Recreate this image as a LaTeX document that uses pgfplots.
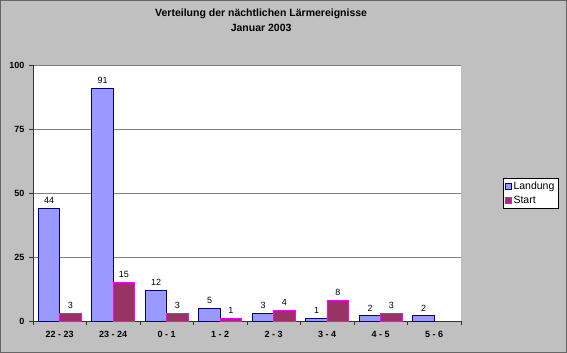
\documentclass[border=0pt]{standalone}
\usepackage{pgfplots}
\pgfplotsset{compat=1.18}
\usepackage{fontspec}
\setmainfont{Liberation Sans}
\definecolor{bg}{HTML}{C0C0C0}
\definecolor{land}{HTML}{9999FF}
\definecolor{landb}{HTML}{000080}
\definecolor{start}{HTML}{993366}
\definecolor{startb}{HTML}{FF00FF}
\definecolor{gridc}{HTML}{808080}
\pgfplotsset{mylegend/.style={legend image code/.code={\draw[##1, line width=0.9pt] (0pt,-3pt) rectangle (6pt,3pt);}}}
\begin{document}
\begin{tikzpicture}
\fill[bg] (0pt,0pt) rectangle (567pt,353pt);
\draw[black!60, line width=0.8pt] (0.4pt,0.4pt) rectangle (566.6pt,352.6pt);
\begin{axis}[
  at={(33pt,32pt)}, anchor=south west,
  scale only axis, width=428pt, height=256pt,
  xmin=-0.5, xmax=7.5, ymin=0, ymax=100,
  ytick={0,25,50,75,100},
  ymajorgrids, grid style={gridc, line width=0.7pt},
  xtick={0,...,7},
  xticklabels={22 - 23, 23 - 24, 0 - 1, 1 - 2, 2 - 3, 3 - 4, 4 - 5, 5 - 6},
  major x tick style={draw=none},
  minor xtick={-0.5,0.5,...,7.5},
  tick align=outside, major tick length=4pt, minor tick length=4pt,
  tick style={black!80, line width=0.7pt},
  axis lines*=left,
  axis line style={black!80, line width=0.8pt},
  ticklabel style={font=\bfseries\fontsize{9}{10}\selectfont},
  xticklabel style={yshift=-3pt},
  yticklabel style={xshift=-1pt},
  /pgf/number format/assume math mode=true,
  axis background/.style={fill=white},
  ybar, bar width=0.4,
  nodes near coords,
  nodes near coords style={font=\fontsize{9}{10}\selectfont, black, yshift=1pt, /pgf/number format/assume math mode=true},
  title={Verteilung der nächtlichen Lärmereignisse\\Januar 2003},
  title style={at={(rel axis cs:0.533,1.15)}, anchor=center, align=center, font=\bfseries\fontsize{10.5}{15}\selectfont},
  legend style={at={(rel axis cs:1.098,0.559)}, anchor=north west, draw=black, fill=white,
    font=\fontsize{10.5}{12}\selectfont, inner sep=1.5pt, row sep=1pt, legend cell align=left,
    /tikz/every even column/.append style={column sep=1pt}},
]
\addplot[fill=land, draw=landb, line width=0.9pt, bar shift=-0.2, mylegend] coordinates {(0,44)(1,91)(2,12)(3,5)(4,3)(5,1)(6,2)(7,2)};
\addplot[fill=start, draw=startb, line width=0.9pt, bar shift=0.2, mylegend] coordinates {(0,3)(1,15)(2,3)(3,1)(4,4)(5,8)(6,3)};
\legend{Landung, Start}
\draw[gridc, line width=0.7pt] (rel axis cs:1,0) -- (rel axis cs:1,1);
\end{axis}
\end{tikzpicture}
\end{document}
